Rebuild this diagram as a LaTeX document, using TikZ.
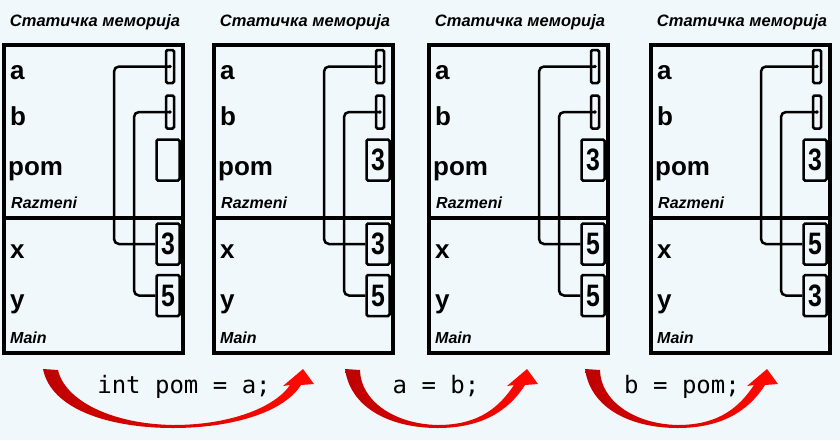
\documentclass[tikz,border=0pt]{standalone}
\usepackage{fontspec}
\setmainfont{Liberation Sans}
\setmonofont{DejaVu Sans Mono}
\usetikzlibrary{calc}
\definecolor{bgblue}{RGB}{240,248,251}
\definecolor{arrowdark}{RGB}{190,0,0}
\definecolor{arrowlight}{RGB}{255,10,0}

% curved red arrow: #1 = left end, #2 = width
\newcommand\redarrow[2]{%
  \shade[left color=arrowdark, right color=arrowlight]
    (#1,369) .. controls ({#1+0.03*#2},410) and ({#1+0.25*#2},428) .. ({#1+0.48*#2},428)
    .. controls ({#1+0.7*#2},428) and ({#1+#2-30},412) .. ({#1+#2-13},385)
    -- ({#1+#2},384) -- ({#1+#2-11},369) -- ({#1+#2-31},386) -- ({#1+#2-24},385)
    .. controls ({#1+#2-38},406) and ({#1+0.7*#2},425) .. ({#1+0.48*#2},425)
    .. controls ({#1+0.25*#2},424) and ({#1+0.08*#2},400) .. ({#1+15},370) -- cycle;}

\begin{document}
\begin{tikzpicture}[x=1pt, y=-1pt,
    memframe/.style = {line width=3.5pt},
    refbox/.style = {draw, line width=2.5pt, rounded corners=1.5pt, minimum width=8pt, minimum height=33pt, inner sep=0pt},
    valbox/.style = {draw, line width=2.5pt, rounded corners=1.5pt, minimum width=23pt, minimum height=41pt, inner sep=0pt, font=\bfseries\fontsize{31}{31}\selectfont},
    varname/.style = {anchor=base west, inner sep=0pt, font=\bfseries\fontsize{26}{26}\selectfont},
    blockname/.style = {anchor=base west, inner sep=0pt, font=\bfseries\itshape\fontsize{16}{16}\selectfont},
    memtitle/.style = {anchor=base, inner sep=0pt, font=\bfseries\itshape\fontsize{16.5}{16.5}\selectfont},
    wire/.style = {line width=2.5pt, rounded corners=5pt},
    code/.style = {anchor=base, inner sep=0pt, font=\ttfamily\fontsize{24}{24}\selectfont}]
    % background
    \fill[bgblue] (0,0) rectangle (840,440);
    \useasboundingbox (0,0) rectangle (840,440);
    % 4 states of the memory
    \foreach \L/\p/\x/\y/\n in {4//3/5/1, 214/3/3/5/2, 429/3/5/5/3, 651/3/5/3/4}{
        \node[memtitle] (t\n) at ({\L+91},26) {Статичка меморија};
        \draw[memframe] (\L,45) rectangle ({\L+179},353);
        \draw[memframe] (\L,218) -- ({\L+179},218);
        % Razmeni
        \node[varname] (a\n) at ({\L+6},79) {a};
        \node[varname] (b\n) at ({\L+6},125) {b};
        \node[varname] (pom\n) at ({\L+4},175) {pom};
        \node[blockname] (r\n) at ({\L+7},208) {Razmeni};
        \node[refbox] (ra\n) at ({\L+166},66.5) {};
        \node[refbox] (rb\n) at ({\L+166},112) {};
        \node[valbox] (vp\n) at ({\L+164},160) {\scalebox{0.8}[1]{\p}};
        % Main
        \node[varname] (x\n) at ({\L+6},258) {x};
        \node[varname] (y\n) at ({\L+6},308) {y};
        \node[blockname] (m\n) at ({\L+6},343) {Main};
        \node[valbox] (vx\n) at ({\L+164},244) {\scalebox{0.8}[1]{\x}};
        \node[valbox] (vy\n) at ({\L+164},295.5) {\scalebox{0.8}[1]{\y}};
        % references
        \draw[wire] (ra\n.center) -- ({\L+110},66.5) -- ({\L+110},244) -- (vx\n.west);
        \draw[wire] (rb\n.center) -- ({\L+130},112) -- ({\L+130},295.5) -- (vy\n.west);
        \fill (ra\n.center) circle (1.8);
        \fill (rb\n.center) circle (1.8);
    }
    % statements
    \redarrow{43}{271}
    \redarrow{345}{193}
    \redarrow{585}{193}
    \node[code] (s1) at (184,393) {int pom = a;};
    \node[code] (s2) at (436,393) {a = b;};
    \node[code] (s3) at (682,393) {b = pom;};
\end{tikzpicture}
\end{document}
